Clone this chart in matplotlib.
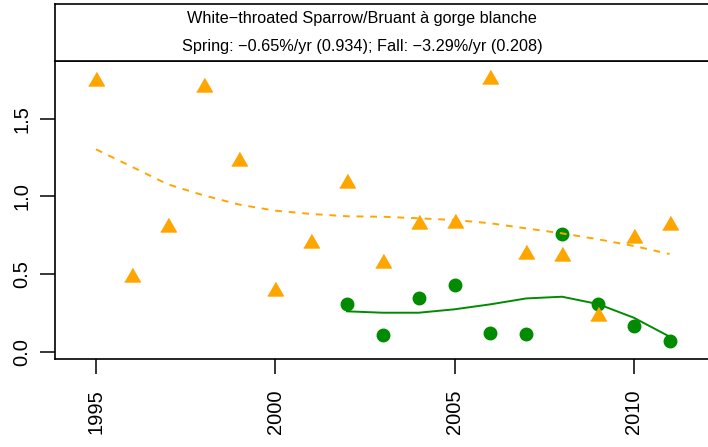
import matplotlib
matplotlib.use("Agg")
import matplotlib.pyplot as plt
import numpy as np

plt.rcParams['font.family'] = ['Liberation Sans', 'DejaVu Sans']

# indices
spring_years = list(range(1995, 2012))
spring_idx = [1.745, 0.478, 0.800, 1.707, 1.225, 0.391, 0.702, 1.085, 0.569,
              0.820, 0.831, 1.757, 0.629, 0.617, 0.230, 0.730, 0.818]
spring_fit = [1.303, 1.191, 1.078, 1.007, 0.947, 0.908, 0.887, 0.872, 0.869,
              0.859, 0.848, 0.827, 0.794, 0.762, 0.724, 0.681, 0.629]

fall_years = list(range(2002, 2012))
fall_idx = [0.305, 0.105, 0.343, 0.429, 0.122, 0.116, 0.755, 0.309, 0.165, 0.067]
fall_fit = [0.260, 0.251, 0.251, 0.273, 0.305, 0.343, 0.354, 0.307, 0.219, 0.097]

title1 = "White\u2212throated Sparrow/Bruant à gorge blanche"
title2 = "Spring: \u22120.65%/yr (0.934); Fall: \u22123.29%/yr (0.208)"

x_ticks = [1995, 2000, 2005, 2010]
y_ticks = [0.0, 0.5, 1.0, 1.5]

W, H = 708, 447
fig = plt.figure(figsize=(W / 100, H / 100), dpi=100)

# pixel box of the plot region (right side runs off the image)
L, R, T, B = 55, 714, 61, 359
ax = fig.add_axes([L / W, 1 - B / H, (R - L) / W, (B - T) / H])
# title box above it
tax = fig.add_axes([L / W, 1 - T / H, (R - L) / W, (T - 4) / H])

orange = '#FFA500'
green = '#008B00'

# triangle shaped like R's pch 17 (centroid at point)
tri = [(-1, -0.577), (1, -0.577), (0, 1.155)]

ax.plot(fall_years, fall_idx, linestyle='none', marker='o', ms=9,
        color=green, mec=green)
ax.plot(spring_years, spring_idx, linestyle='none', marker=tri, ms=13,
        color=orange, mec=orange)
ax.plot(fall_years, fall_fit, color=green, lw=1.4)
ax.plot(spring_years, spring_fit, color=orange, lw=1.4, dashes=(3.5, 3.5))

# px -> data mapping: 1995 at x=96, 35.85 px/yr ; 0 at y=351.7, 155.3 px/unit
ax.set_xlim(1995 + (L - 96) / 35.85, 1995 + (R - 96) / 35.85)
ax.set_ylim((351.7 - B) / 155.3, (351.7 - T) / 155.3)

ax.set_xticks(x_ticks)
ax.set_yticks(y_ticks)
ax.set_xticklabels([str(v) for v in x_ticks], rotation=90, fontsize=14.5)
ax.set_yticklabels(['%.1f' % v for v in y_ticks], rotation=90, va='center',
                   fontsize=14.5)
ax.tick_params(axis='x', length=11, width=1.1, pad=11)
ax.tick_params(axis='y', length=11, width=1.1, pad=6)
for s in ax.spines.values():
    s.set_linewidth(1.2)

tax.set_xticks([])
tax.set_yticks([])
for s in tax.spines.values():
    s.set_linewidth(1.2)
# title text is centred at about x=362 px
cx = (362 - L) / (R - L)
tax.text(cx, 0.74, title1, transform=tax.transAxes,
         ha='center', va='center', fontsize=11.7)
tax.text(cx, 0.25, title2, transform=tax.transAxes,
         ha='center', va='center', fontsize=11.7)

fig.savefig('out.png', dpi=100)
